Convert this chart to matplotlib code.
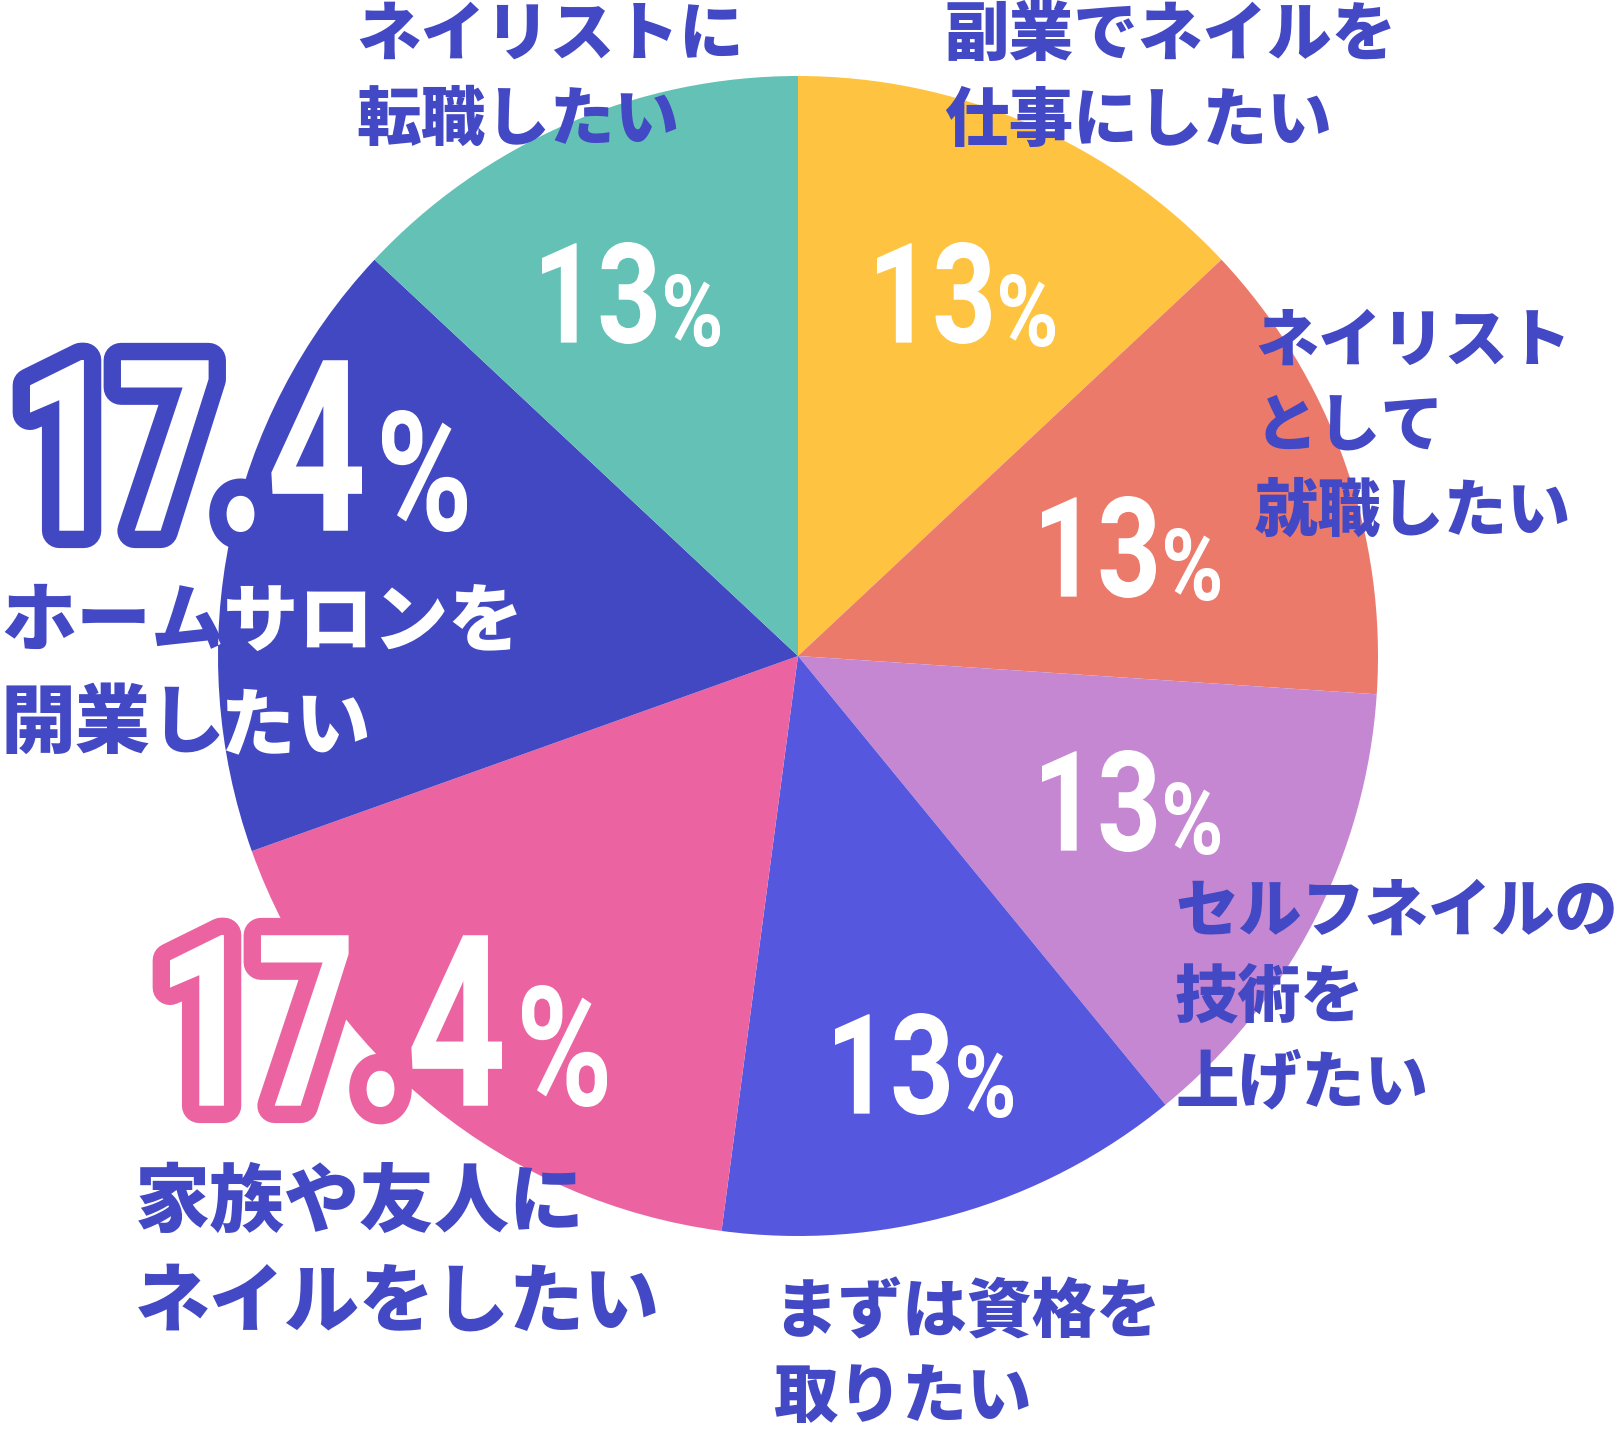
import matplotlib
matplotlib.use("Agg")
import matplotlib.pyplot as plt
from matplotlib.textpath import TextPath
from matplotlib.patches import PathPatch
from matplotlib.font_manager import FontProperties
from matplotlib.transforms import Affine2D

W, H = 1621, 1431

# clockwise from 12 o'clock
answers = ["副業でネイルを\n仕事にしたい",
           "ネイリスト\nとして\n就職したい",
           "セルフネイルの\n技術を\n上げたい",
           "まずは資格を\n取りたい",
           "家族や友人に\nネイルをしたい",
           "ホームサロンを\n開業したい",
           "ネイリストに\n転職したい"]
shares = [13, 13, 13, 13, 17.4, 17.4, 13]
colors = ["#FEC441", "#EC7A6B", "#C587D1", "#5657DF", "#EB64A1", "#4248C2", "#64C1B5"]
TXT = "#4348C4"

# label layout: left, top of first line, line pitch, font size
label_pos = [(944, 3, 86, 46.5), (1255, 310, 85, 45.5), (1175, 880, 86, 45.5),
             (773, 1280, 85, 46.5), (135, 1165, 100, 54), (1, 584, 102, 54),
             (356, 3, 85, 46.5)]
# percent layout: left and bottom of the digits
pct_pos = [(877, 344), (1042, 598), (1042, 852), (835, 1115), (170, 1107), (30, 532), (542, 344)]

fig = plt.figure(figsize=(W / 100, H / 100), dpi=100)
ax = fig.add_axes([0, 0, 1, 1])
wedges, _ = ax.pie(shares, colors=colors, startangle=90, counterclock=False,
                   center=(798, H - 656), radius=580, frame=True,
                   wedgeprops=dict(linewidth=0))
ax.set_xlim(0, W)
ax.set_ylim(0, H)
ax.axis("off")

num_font = FontProperties(family="Roboto", weight="bold")
jp_font = FontProperties(family="Noto Sans CJK JP", weight="black")


def glyphs(s, left, top, right, bottom, edge=None, lw=0):
    p = TextPath((0, 0), s, size=100, prop=num_font)
    b = p.get_extents()
    sx = (right - left) / b.width
    sy = (bottom - top) / b.height
    tr = Affine2D().translate(-b.x0, -b.y0).scale(sx, sy).translate(left, H - bottom)
    p = tr.transform_path(p)
    if edge:
        ax.add_patch(PathPatch(p, fc=edge, ec=edge, lw=lw, joinstyle="round", zorder=3))
    ax.add_patch(PathPatch(p, fc="white", ec="none", zorder=4))


for v, (x, y), c in zip(shares, pct_pos, colors):
    num = f"{v:g}"
    if v > 15:
        glyphs(num, x, y - 172, x + 332, y, edge=c, lw=25)
        glyphs("%", x + 352, y - 122, x + 437, y)
    else:
        glyphs(num, x, y - 102, x + 114, y)
        glyphs("%", x + 123, y - 70, x + 178, y + 3)

for k, (txt, (x, y, pitch, fs)) in enumerate(zip(answers, label_pos)):
    for i, line in enumerate(txt.split("\n")):
        top = y + i * pitch
        ax.text(x, H - top, line, color=TXT, ha="left", va="top", fontsize=fs,
                fontweight="black", zorder=5, family=["Noto Sans CJK JP", "DejaVu Sans"])
        if colors[k] == "#4248C2":
            # white where the label runs over its own dark wedge
            p = TextPath((0, 0), line, size=fs * 100 / 72, prop=jp_font)
            b = p.get_extents()
            p = Affine2D().translate(x - b.x0, H - top - b.y1).transform_path(p)
            pp = PathPatch(p, fc="white", ec="none", zorder=6)
            ax.add_patch(pp)
            pp.set_clip_path(wedges[k])

fig.savefig("out.png", dpi=100)
